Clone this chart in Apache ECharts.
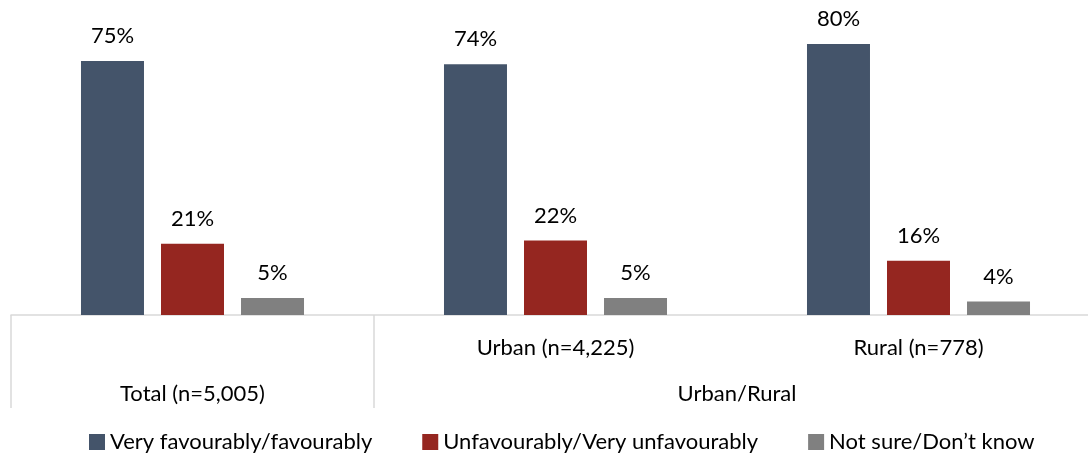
<!DOCTYPE html>
<html>
<head>
<meta charset="utf-8">
<script src="https://cdn.jsdelivr.net/npm/echarts@6/dist/echarts.min.js"></script>
<style>
  html, body { margin: 0; padding: 0; background: #fff; }
  #chart { width: 1088px; height: 457px; }
</style>
</head>
<body>
<div id="chart"></div>
<script>
const seriesNames = ['Very favourably/favourably', 'Unfavourably/Very unfavourably', 'Not sure/Don\u2019t know'];
const categoryLabels = ['', 'Urban (n=4,225)', 'Rural (n=778)'];
const groupLabels = ['Total (n=5,005)', 'Urban/Rural'];
const groupLabelPositions = [0.5, 2];
const groupSeparators = [0, 1];
const favourable = [75, 74, 80];
const unfavourable = [21, 22, 16];
const notSure = [5, 5, 4];

const colors = ['#44546A', '#952620', '#808080'];
const FONT = 'Lato';
const FS = 22;

const chart = echarts.init(document.getElementById('chart'));

function barSeries(name, data, color) {
  return {
    name: name,
    type: 'bar',
    data: data,
    xAxisIndex: 0,
    barWidth: 63,
    barGap: '27%',
    itemStyle: { color: color },
    label: {
      show: true,
      position: 'top',
      distance: 14,
      formatter: '{c}%',
      color: '#000',
      fontFamily: FONT,
      fontSize: FS
    }
  };
}

chart.setOption({
  animation: false,
  color: colors,
  textStyle: { fontFamily: FONT },
  grid: { left: 11, right: -12, top: 44, bottom: 142, containLabel: false, outerBoundsMode: 'none' },
  legend: {
    left: 89,
    top: 431,
    padding: 0,
    itemWidth: 16,
    itemHeight: 16,
    itemGap: 50,
    icon: 'rect',
    textStyle: { fontFamily: FONT, fontSize: FS, color: '#000' },
    data: seriesNames
  },
  xAxis: [
    {
      type: 'category',
      position: 'bottom',
      data: categoryLabels,
      axisLine: { show: true, lineStyle: { color: '#d9d9d9', width: 1.5 } },
      axisTick: { show: false },
      axisLabel: { color: '#000', fontFamily: FONT, fontSize: FS, margin: 22, interval: 0 }
    },
    {
      type: 'value',
      position: 'bottom',
      min: 0,
      max: 3,
      splitLine: { show: false },
      axisLine: { show: false },
      axisTick: {
        show: true,
        customValues: groupSeparators,
        length: 93,
        lineStyle: { color: '#d9d9d9', width: 1.5 }
      },
      axisLabel: {
        show: true,
        customValues: groupLabelPositions,
        margin: 68,
        color: '#000',
        fontFamily: FONT,
        fontSize: FS,
        formatter: function (v) {
          const i = groupLabelPositions.indexOf(v);
          return i >= 0 ? groupLabels[i] : '';
        }
      }
    }
  ],
  yAxis: { type: 'value', min: 0, max: 80, show: false },
  series: [
    barSeries(seriesNames[0], favourable, colors[0]),
    barSeries(seriesNames[1], unfavourable, colors[1]),
    barSeries(seriesNames[2], notSure, colors[2])
  ]
});
</script>
</body>
</html>
